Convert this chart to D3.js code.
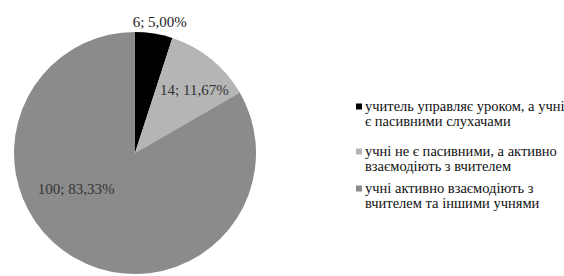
<!DOCTYPE html>
<html><head><meta charset="utf-8">
<script src="https://cdn.jsdelivr.net/npm/d3@7"></script>
<style>body{margin:0;background:#fff}svg{display:block}text{font-family:"Liberation Serif","Times New Roman",serif}</style>
</head><body><svg id="c" width="564" height="276"></svg>
<script>
const categories = [
  ["учитель управляє уроком, а учні", "є пасивними слухачами"],
  ["учні не є пасивними, а активно", "взаємодіють з вчителем"],
  ["учні активно взаємодіють з", "вчителем та іншими учнями"]
];
const values = [6, 14, 100];
const percents = ["5,00%", "11,67%", "83,33%"];
const colors = ["#000000", "#b5b5b5", "#8b8b8b"];

const svg = d3.select("#c");
const cx = 135, cy = 153, R = 121;
const g = svg.append("g").attr("transform", `translate(${cx},${cy})`);
const pie = d3.pie().sort(null).value(d => d)(values);
const arc = d3.arc().innerRadius(0).outerRadius(R);
g.selectAll("path").data(pie).join("path").attr("d", arc).attr("fill", (d, i) => colors[i]);

// label placement: radius fraction and angle shift per slice
const lblR = [1.1, 0.72, 0.57], lblShift = [0.03, 0.07, 0.5];
g.selectAll("text.l").data(pie).join("text").attr("class", "l")
  .attr("x", (d, i) => R * lblR[i] * Math.sin((d.startAngle + d.endAngle) / 2 + lblShift[i]))
  .attr("y", (d, i) => -R * lblR[i] * Math.cos((d.startAngle + d.endAngle) / 2 + lblShift[i]))
  .attr("text-anchor", "middle").attr("dy", "0.35em")
  .attr("font-size", 15).attr("fill", (d, i) => i === 0 ? "#222" : "#333")
  .text((d, i) => `${values[i]}; ${percents[i]}`);

const leg = svg.append("g").attr("transform", "translate(356,0)");
const itemY = [111, 156, 193];
categories.forEach((lines, i) => {
  leg.append("rect").attr("x", 0).attr("y", itemY[i] - 7.5).attr("width", 6).attr("height", 6).attr("fill", colors[i]);
  lines.forEach((t, j) => {
    leg.append("text").attr("x", 9).attr("y", itemY[i] + j * 15)
      .attr("font-size", 14.5).attr("fill", "#111").text(t);
  });
});
</script></body></html>
